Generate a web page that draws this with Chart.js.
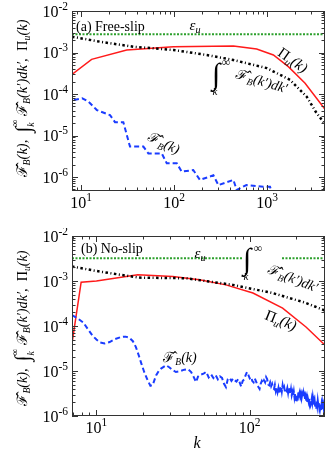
<!DOCTYPE html>
<html><head><meta charset="utf-8">
<script src="https://cdn.jsdelivr.net/npm/chart.js@4.4.1/dist/chart.umd.min.js"></script>
<style>
html,body{margin:0;padding:0;background:#fff;width:329px;height:459px;overflow:hidden}
.p{position:absolute;left:0;width:329px}
</style></head><body>
<div class="p" style="top:0;height:228px"><canvas id="ca"></canvas></div>
<div class="p" style="top:228px;height:231px"><canvas id="cb"></canvas></div>
<script>
// ---------- Panel (a) Free-slip ----------
const kPiA  = [8.06, 13.0, 31, 98.5, 435, 774, 1170, 1695, 2565, 4200];
const piA   = [3.0e-4, 6.85e-4, 1.15e-3, 1.38e-3, 1.43e-3, 1.21e-3, 8.7e-4, 4.57e-4, 1.82e-4, 4.27e-5];
const kIntA = [8, 16, 36.5, 98.5, 225, 435, 993, 1766, 2670, 3400, 4200];
const intA  = [2.4e-3, 1.82e-3, 1.38e-3, 1.15e-3, 8.7e-4, 6.6e-4, 4.2e-4, 2.2e-4, 8.6e-5, 3.5e-5, 1.9e-5];
const kFbA  = [8.4, 10.3, 12, 14.8, 20.5, 23.2, 28.5, 33.6, 46.8, 53, 73.8, 83.5, 107, 121, 161, 190, 265, 300, 435, 472, 600, 910, 1077, 1200];
const fbA   = [7.2e-5, 7.9e-5, 6.6e-5, 4.1e-5, 3.1e-5, 2.1e-5, 2.1e-5, 5.4e-6, 5.4e-6, 3.7e-6, 3.7e-6, 2.14e-6, 2.14e-6, 1.35e-6, 1.47e-6, 8.5e-7, 1.1e-6, 6.4e-7, 8.5e-7, 4.9e-7, 6.4e-7, 5.8e-7, 5.8e-7, 3e-7];
const kEpsA = [8, 4200];
const epsA  = [2.75e-3, 2.75e-3];
const xTickLabelsA = ['10^1', '10^2', '10^3'];

// ---------- Panel (b) No-slip ----------
const kPiB  = [6.93, 7.95, 10, 18.6, 31.5, 47, 70, 105, 164, 233, 302, 310];
const piB   = [4.1e-5, 9.4e-4, 1.0e-3, 1.37e-3, 1.26e-3, 1.06e-3, 8.2e-4, 5.4e-4, 2.5e-4, 9.5e-5, 4.1e-5, 3.8e-5];
const kIntB = [6.93, 10.5, 19, 38.5, 77.5, 141, 230, 310];
const intB  = [2.1e-3, 1.62e-3, 1.19e-3, 1.15e-3, 8.2e-4, 5.4e-4, 3.3e-4, 2.2e-4];
const kFbB  = [6.93, 7.6, 8.2, 8.8, 9.4, 10, 10.6, 11.3, 12.2, 13.2, 14.5, 15.5, 16.4, 17.3, 18.1, 19, 19.6, 20.5, 21.6, 22.5, 23.3, 24.5, 25.5, 26.4, 28.5, 30, 31.5, 33, 34.8, 37.5, 39.5, 41.5, 43, 44.7, 46, 47.5,
  50, 52, 54, 56, 58, 60, 62, 64, 66, 68, 70, 72, 74, 76, 78, 80, 82, 84, 86, 88, 90, 92, 94, 96, 98, 100,
  102, 104, 106, 108, 110, 112, 114, 116, 118, 120, 122, 124, 126, 128, 130, 132, 134, 136, 138, 140,
  142, 144, 146, 148, 150, 152, 154, 156, 158, 160, 162, 164, 166, 168, 170, 172, 174, 176, 178, 180,
  182, 184, 186, 188, 190, 192, 194, 196, 198, 200, 202, 204, 206, 208, 210, 212, 214, 216, 218, 220,
  222, 224, 226, 228, 230, 232, 234, 236, 238, 240, 242, 244, 246, 248, 250, 252, 254, 256, 258, 260,
  262, 264, 266, 268, 270, 272, 274, 276, 278, 280, 282, 284, 286, 288, 290, 292, 294, 296, 298, 300,
  302, 304, 306, 308, 310];
const fbB   = [1.75e-4, 1.45e-4, 1.2e-4, 8.5e-5, 6.2e-5, 5.0e-5, 4.3e-5, 4.1e-5, 4.4e-5, 5.1e-5, 5.7e-5, 5.8e-5, 5.5e-5, 4.6e-5, 3.4e-5, 2.1e-5, 1.5e-5, 9.5e-6, 6.2e-6, 4.7e-6, 4.9e-6, 8.0e-6, 1.0e-5, 1.13e-5, 1.34e-5, 1.2e-5, 1.04e-5, 9.5e-6, 9.8e-6, 1.07e-5, 1.1e-5, 9.5e-6, 7.5e-6, 5.7e-6, 7.5e-6, 8.2e-6,
  8.7e-6, 9.6e-6, 7.2e-6, 8.4e-6, 7.0e-6, 8.1e-6, 6.5e-6, 7.6e-6, 7.0e-6, 5.2e-6, 4.4e-6, 6.6e-6, 7.0e-6, 6.0e-6, 6.8e-6, 6.2e-6, 5.8e-6, 6.6e-6, 5.6e-6, 4.5e-6, 6.0e-6, 6.5e-6, 8.0e-6, 9.5e-6, 8.2e-6, 6.9e-6,
  7.4e-6, 6.0e-6, 5.6e-6, 6.8e-6, 5.9e-6, 5.0e-6, 4.4e-6, 4.0e-6, 5.2e-6, 6.0e-6, 5.4e-6, 6.2e-6, 5.6e-6, 7.3e-6, 6.6e-6, 5.0e-6, 4.8e-6, 5.6e-6, 4.6e-6, 5.2e-6,
  4.2e-6, 4.0e-6, 4.9e-6, 3.6e-6, 4.4e-6, 3.4e-6, 4.2e-6, 3.1e-6, 3.9e-6, 4.6e-6, 3.5e-6, 4.8e-6, 3.8e-6, 4.3e-6, 3.4e-6, 3.8e-6, 3.6e-6, 4.2e-6, 3.3e-6, 4.4e-6,
  3.7e-6, 3.1e-6, 3.9e-6, 2.9e-6, 3.4e-6, 2.8e-6, 3.5e-6, 2.6e-6, 3.2e-6, 2.2e-6, 2.0e-6, 3.0e-6, 2.2e-6, 3.6e-6, 3.0e-6, 3.4e-6, 2.7e-6, 3.1e-6, 2.5e-6, 3.0e-6,
  2.6e-6, 3.2e-6, 2.6e-6, 2.9e-6, 2.3e-6, 2.7e-6, 2.2e-6, 2.6e-6, 2.0e-6, 2.4e-6, 2.1e-6, 2.5e-6, 1.9e-6, 2.2e-6, 1.8e-6, 2.0e-6, 2.4e-6, 2.0e-6, 2.6e-6, 2.1e-6,
  2.3e-6, 1.7e-6, 2.0e-6, 1.5e-6, 1.9e-6, 1.45e-6, 2.1e-6, 1.7e-6, 2.2e-6, 1.8e-6, 2.0e-6, 1.6e-6, 1.9e-6, 1.5e-6, 1.8e-6, 1.35e-6, 1.7e-6, 1.4e-6, 1.9e-6, 1.6e-6,
  1.8e-6, 1.5e-6, 1.7e-6, 1.4e-6, 1.6e-6];
const kEpsB = [6.93, 310];
const epsB  = [3.2e-3, 3.2e-3];
const xTickLabelsB = ['10^1', '10^2'];

const yTickLabels = ['10^-6', '10^-5', '10^-4', '10^-3', '10^-2'];

// ---------- helpers ----------
const SERIF = '"Liberation Serif","DejaVu Serif",serif';
const zip = (ks, vs) => ks.map((k, i) => ({x: k, y: vs[i]}));
const tickVal = s => { const [b, e] = s.split('^'); return Math.pow(Number(b), Number(e)); };

function layoutRich(ctx, segs, size) {
  const items = [];
  let w = 0;
  for (const [t, s] of segs) {
    let fs = size, dy = 0, it = false, adv = true;
    if (s === 'i') it = true;
    if (s === 'sub') { fs = size * 0.68; dy = size * 0.22; it = true; }
    if (s === 'subz') { fs = size * 0.68; dy = size * 0.5; it = true; adv = false; }
    if (s === 'sup') { fs = size * 0.68; dy = -size * 0.62; }
    if (s === 'big') { fs = size * 1.45; dy = size * 0.18; }
    const font = (it ? 'italic ' : '') + fs.toFixed(1) + 'px ' + SERIF;
    ctx.font = font;
    const tw = ctx.measureText(t).width;
    items.push({t, font, dy, x: w});
    if (adv) w += tw;
  }
  return {items, w};
}

function rich(ctx, segs, size, x, y, rot, align, targetW) {
  ctx.save();
  if (targetW) {
    const l0 = layoutRich(ctx, segs, size);
    size = size * targetW / l0.w;
  }
  const {items, w} = layoutRich(ctx, segs, size);
  ctx.translate(x, y);
  ctx.rotate((rot || 0) * Math.PI / 180);
  ctx.textBaseline = 'alphabetic';
  ctx.fillStyle = '#000';
  const x0 = align === 'left' ? 0 : -w / 2;
  const base = size * 0.34;
  for (const it of items) {
    ctx.font = it.font;
    ctx.fillText(it.t, x0 + it.x, base + it.dy);
  }
  ctx.restore();
}

function drawFrame(chart, xLabels, extras) {
  const {ctx, chartArea: a, scales: {x, y}} = chart;
  ctx.save();
  ctx.strokeStyle = '#333';
  ctx.lineWidth = 1;
  ctx.strokeRect(Math.round(a.left) + 0.5, Math.round(a.top) + 0.5, Math.round(a.right - a.left) - 1, Math.round(a.bottom - a.top) - 1);
  ctx.beginPath();
  const eachMinor = (sc, fn) => {
    const lo = Math.floor(Math.log10(sc.min)), hi = Math.ceil(Math.log10(sc.max));
    for (let e = lo; e <= hi; e++) for (let m = 1; m <= 9; m++) {
      const v = m * Math.pow(10, e);
      if (v < sc.min * 0.999 || v > sc.max * 1.001) continue;
      fn(Math.round(sc.getPixelForValue(v)) + 0.5, m === 1 ? 6 : 3.5);
    }
  };
  eachMinor(x, (p, L) => {
    ctx.moveTo(p, a.bottom); ctx.lineTo(p, a.bottom - L);
    ctx.moveTo(p, a.top); ctx.lineTo(p, a.top + L);
  });
  eachMinor(y, (p, L) => {
    ctx.moveTo(a.left, p); ctx.lineTo(a.left + L, p);
    ctx.moveTo(a.right, p); ctx.lineTo(a.right - L, p);
  });
  ctx.stroke();

  // tick labels
  ctx.fillStyle = '#000';
  ctx.textBaseline = 'alphabetic';
  const FB = '16px ' + SERIF, FE = '11.5px ' + SERIF;
  for (const lab of xLabels) {
    const [b, e] = lab.split('^');
    const p = x.getPixelForValue(tickVal(lab));
    ctx.font = FB; const wb = ctx.measureText(b).width;
    ctx.font = FE; const we = ctx.measureText(e).width;
    const s = p - (wb + we) / 2;
    const base = a.bottom + 16.5;
    ctx.font = FB; ctx.fillText(b, s, base);
    ctx.font = FE; ctx.fillText(e, s + wb, base - 7);
  }
  for (const lab of yTickLabels) {
    const [b, e] = lab.split('^');
    const p = y.getPixelForValue(tickVal(lab));
    ctx.font = FB; const wb = ctx.measureText(b).width;
    ctx.font = FE; const we = ctx.measureText(e).width;
    const right = a.left - 4;
    const base = p + 5.5;
    ctx.font = FB; ctx.fillText(b, right - we - wb, base);
    ctx.font = FE; ctx.fillText(e, right - we, base - 7);
  }
  ctx.restore();
  extras(ctx, chart);
}

const yTitle = [['ℱ̂', 'n'], ['B', 'sub'], ['(k),  ', 'i'], ['∫', 'big'], ['k', 'subz'], ['∞', 'sup'], [' ℱ̂', 'n'], ['B', 'sub'], ['(k′)dk′,  ', 'i'], ['Π', 'n'], ['u', 'sub'], ['(k)', 'i']];

function makeChart(id, sets, xr, padTop, xH, xLabels, extras) {
  return new Chart(document.getElementById(id), {
    type: 'line',
    data: {datasets: sets},
    options: {
      responsive: true, maintainAspectRatio: false, devicePixelRatio: 1, animation: false,
      layout: {padding: {top: padTop, right: 4, left: 0, bottom: 0}},
      plugins: {legend: {display: false}, tooltip: {enabled: false}},
      elements: {point: {radius: 0}, line: {tension: 0}},
      scales: {
        x: {type: 'logarithmic', min: xr[0], max: xr[1], ticks: {display: false}, grid: {display: false}, border: {display: false}, afterFit: s => { s.height = xH; }},
        y: {type: 'logarithmic', min: xr[2], max: xr[3], ticks: {display: false}, grid: {display: false}, border: {display: false}, afterFit: s => { s.width = 72; }}
      }
    },
    plugins: [{id: 'frame', afterDatasetsDraw: c => drawFrame(c, xLabels, extras)}]
  });
}

const RED = '#ff1a1a', BLUE = '#1a3cff', GREEN = '#2ca02c', BLACK = '#000';
const ds = (d, color, w, dash, cap) => ({data: d, borderColor: color, borderWidth: w, borderDash: dash, borderCapStyle: cap || 'butt', fill: false, pointRadius: 0});

makeChart('ca', [
  ds(zip(kEpsA, epsA), GREEN, 2, [2, 1.5]),
  ds(zip(kFbA, fbA), BLUE, 2, [5, 3]),
  ds(zip(kIntA, intA), BLACK, 2.5, [2.5, 2.5, 1, 2.5]),
  ds(zip(kPiA, piA), RED, 1.5, [])
], [8, 4200, 4.6e-7, 1e-2], 11, 37, xTickLabelsA, (ctx) => {
  rich(ctx, [['(a) Free-slip', 'n']], 14, 76, 26, 0, 'left');
  rich(ctx, [['ε', 'i'], ['u', 'sub']], 15, 195, 25, 0);
  rich(ctx, [['Π', 'n'], ['u', 'sub'], ['(k)', 'i']], 15, 293, 60, 35);
  rich(ctx, [['∫', 'n']], 30, 216, 74, 0);
  rich(ctx, [['∞', 'n']], 12, 226, 62, 0);
  rich(ctx, [['k', 'i']], 11, 215, 91, 0);
  rich(ctx, [['ℱ̂', 'n'], ['B', 'sub'], ['(k′)dk′', 'i']], 14, 262, 81, 17);
  rich(ctx, [['ℱ̂', 'n'], ['B', 'sub'], ['(k)', 'i']], 14, 164, 143, 25);
  rich(ctx, yTitle, 12.5, 22, 98.5, -90, 'center', 157);
});

makeChart('cb', [
  ds(zip(kEpsB, epsB), GREEN, 2, [2, 1.5]),
  ds(zip(kFbB, fbB), BLUE, 2, [5, 3]),
  ds(zip(kIntB, intB), BLACK, 2.5, [2.5, 2.5, 1, 2.5]),
  ds(zip(kPiB, piB), RED, 1.5, [])
], [6.93, 310, 1e-6, 1e-2], 8, 43, xTickLabelsB, (ctx, c) => {
  const ye = c.scales.y.getPixelForValue(epsB[0]);
  ctx.fillStyle = '#fff';
  ctx.fillRect(242, ye - 3, 40, 6);
  rich(ctx, [['(b) No-slip', 'n']], 14, 81, 20, 0, 'left');
  rich(ctx, [['ε', 'i'], ['u', 'sub']], 15, 200, 25, 0);
  rich(ctx, [['∫', 'n']], 30, 247, 31, 0);
  rich(ctx, [['∞', 'n']], 12, 258, 20, 0);
  rich(ctx, [['k', 'i']], 11, 246, 48, 0);
  rich(ctx, [['ℱ̂', 'n'], ['B', 'sub'], ['(k′)dk′', 'i']], 14, 293, 50, 22);
  rich(ctx, [['Π', 'n'], ['u', 'sub'], ['(k)', 'i']], 15, 281, 92, 22);
  rich(ctx, [['ℱ̂', 'n'], ['B', 'sub'], ['(k)', 'i']], 14, 180, 129, 0);
  rich(ctx, [['k', 'i']], 16, 197, 215, 0);
  rich(ctx, yTitle, 12.5, 22, 100, -90, 'center', 154);
});
</script>
</body></html>
